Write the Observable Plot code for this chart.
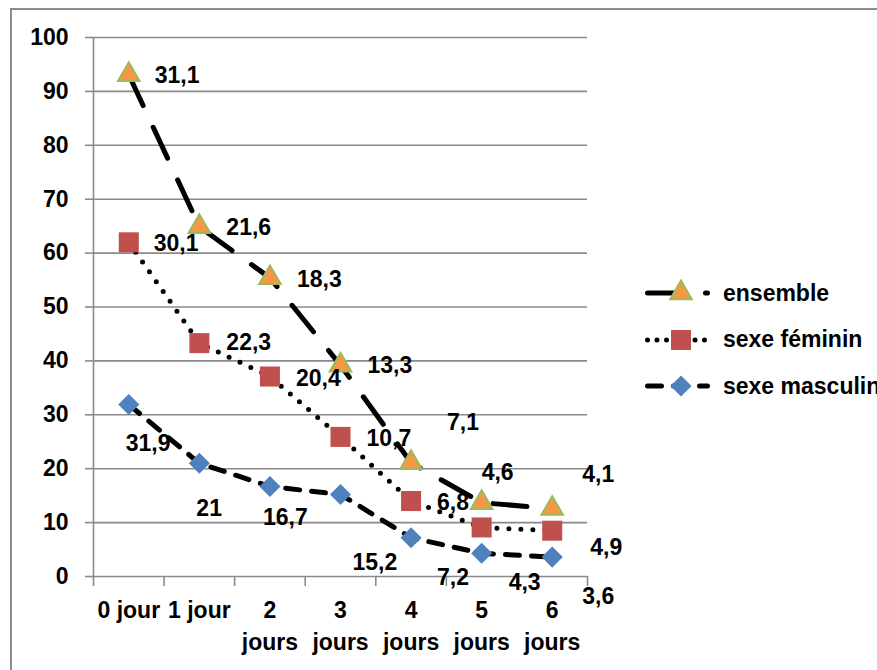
<!DOCTYPE html>
<html>
<head>
<meta charset="utf-8">
<script src="https://cdn.jsdelivr.net/npm/d3@7"></script>
<script src="https://cdn.jsdelivr.net/npm/@observablehq/plot@0.6"></script>
<style>
  body { margin: 0; background: #fff; }
  #wrap { position: relative; width: 877px; height: 670px; overflow: hidden;
          font-family: "Liberation Sans", Arial, sans-serif; font-weight: bold; color: #000; }
  #border { position: absolute; left: 10px; top: 8px; width: 950px; height: 750px;
            border: 2px solid #8c8c8c; box-sizing: border-box; }
  #chart { position: absolute; left: 0; top: 0; }
  #legend { position: absolute; left: 645px; top: 270px; }
  .item { display: flex; align-items: center; height: 46.5px; font-size: 23px; white-space: nowrap; }
  .item svg { margin-right: 13px; overflow: visible; }
</style>
</head>
<body>
<div id="wrap">
  <div id="border"></div>
  <div id="chart"></div>
  <div id="legend"></div>
</div>
<script>
// ---- data ----
const days = ["0 jour", "1 jour", "2\njours", "3\njours", "4\njours", "5\njours", "6\njours"];
const seriesNames = ["ensemble", "sexe féminin", "sexe masculin"];
const masculin = [31.9, 21, 16.7, 15.2, 7.2, 4.3, 3.6];
const feminin  = [30.1, 22.3, 20.4, 10.7, 6.8, 4.8, 4.9];
const ensemble = [31.1, 21.6, 18.3, 13.3, 7.1, 4.6, 4.1];
const yTicks = [0, 10, 20, 30, 40, 50, 60, 70, 80, 90, 100];

// ---- label nudges (pixels; null = label not shown) ----
const nudgeEnsemble = [[26, 1], [27, 1], [27, 2], [27, 0], [36, -40], [0, -30], [30, -34]];
const nudgeFeminin  = [[25, 1], [27, 0], [26, 2], [26, 2], [26, 2], null, [38, 17]];
const nudgeMasculin = [[-3, 39], [-3, 45], [-7, 31], [12, 68], [26, 40], [27, 29], [30, 40]];

// ---- styles ----
const FONT = 23;
const styles = {
  "ensemble":      { dash: "34 24", symbol: "triangle", r: 8,    fill: "#F79646", stroke: "#9BBB59", sw: 2 },
  "sexe féminin":  { dash: "0 12",  symbol: "square",   r: 11.3, fill: "#C0504D", stroke: "none",    sw: 0 },
  "sexe masculin": { dash: "14 12", symbol: "diamond2", r: 9.5,  fill: "#4F81BD", stroke: "none",    sw: 0 }
};

// ---- stacked table ----
const rows = [];
days.forEach((d, i) => {
  const m = masculin[i], f = m + feminin[i], e = f + ensemble[i];
  rows.push({ series: "sexe masculin", i, value: masculin[i], y: m });
  rows.push({ series: "sexe féminin", i, value: feminin[i], y: f });
  rows.push({ series: "ensemble", i, value: ensemble[i], y: e });
});
const nudges = { "ensemble": nudgeEnsemble, "sexe féminin": nudgeFeminin, "sexe masculin": nudgeMasculin };
const fmt = v => String(v).replace(".", ",");

const GRID = "#8a8a8a";
const marks = [
  Plot.gridY({ ticks: yTicks, stroke: GRID, strokeOpacity: 1, strokeWidth: 1.6 }),
  Plot.axisY({ ticks: yTicks, tickSize: 8, tickPadding: 17, stroke: GRID, strokeWidth: 1.6,
               fill: "black", fontSize: FONT, fontWeight: "bold", label: null }),
  Plot.ruleX([-0.5], { stroke: GRID, strokeWidth: 1.6 }),
  Plot.axisX({ ticks: d3.range(-0.5, 7, 1), tickSize: 10, tickFormat: () => "",
               stroke: GRID, strokeWidth: 1.6, label: null }),
  Plot.axisX({ ticks: d3.range(days.length), tickSize: 0, tickPadding: 19,
               tickFormat: i => days[i], fill: "black", fontSize: FONT, fontWeight: "bold",
               lineHeight: 1.38, label: null })
];

for (const s of ["sexe masculin", "sexe féminin", "ensemble"]) {
  const st = styles[s];
  marks.push(Plot.line(rows.filter(r => r.series === s), {
    x: "i", y: "y", stroke: "black", strokeWidth: 5,
    strokeDasharray: st.dash, strokeLinecap: "round", strokeLinejoin: "round"
  }));
}
for (const s of ["sexe masculin", "sexe féminin", "ensemble"]) {
  const st = styles[s];
  marks.push(Plot.dot(rows.filter(r => r.series === s), {
    x: "i", y: "y", symbol: st.symbol, r: st.r, fill: st.fill,
    stroke: st.stroke, strokeWidth: st.sw, fillOpacity: 1
  }));
}
for (const s of ["ensemble", "sexe féminin", "sexe masculin"]) {
  rows.filter(r => r.series === s).forEach(r => {
    const n = nudges[s][r.i];
    if (!n) return;
    marks.push(Plot.text([r], {
      x: "i", y: "y", text: d => fmt(d.value), dx: n[0], dy: n[1],
      textAnchor: "start", fontSize: FONT, fontWeight: "bold", fill: "black"
    }));
  });
}

const chart = Plot.plot({
  width: 877, height: 670,
  marginLeft: 93, marginRight: 290, marginTop: 37, marginBottom: 94,
  x: { type: "linear", domain: [-0.5, 6.5] },
  y: { domain: [0, 100] },
  style: { fontFamily: "'Liberation Sans', Arial, sans-serif", fontWeight: "bold",
           background: "transparent", overflow: "visible", color: "black" },
  marks
});
document.getElementById("chart").appendChild(chart);

// ---- legend ----
const legend = document.getElementById("legend");
const legendDash = { "ensemble": "34 24", "sexe féminin": "0 9.5", "sexe masculin": "14 12" };
for (const s of seriesNames) {
  const st = styles[s];
  const item = document.createElement("div");
  item.className = "item";
  const svg = d3.create("svg").attr("width", 65).attr("height", 24);
  svg.append("line").attr("x1", 2.5).attr("x2", 62.5).attr("y1", 12).attr("y2", 12)
    .attr("stroke", "black").attr("stroke-width", 5).attr("stroke-linecap", "round")
    .attr("stroke-dasharray", legendDash[s]);
  const sym = { triangle: d3.symbolTriangle, square: d3.symbolSquare, diamond2: d3.symbolDiamond2 }[st.symbol];
  svg.append("path").attr("transform", "translate(36,12)")
    .attr("d", d3.symbol(sym, st.r * st.r * Math.PI)())
    .attr("fill", st.fill).attr("stroke", st.stroke).attr("stroke-width", st.sw);
  item.appendChild(svg.node());
  const span = document.createElement("span");
  span.textContent = s;
  item.appendChild(span);
  legend.appendChild(item);
}
</script>
</body>
</html>
